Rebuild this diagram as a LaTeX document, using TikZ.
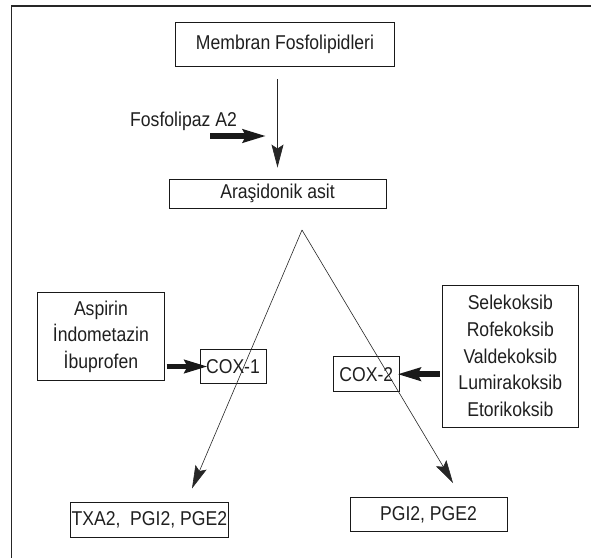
\documentclass[tikz,border=0pt]{standalone}
\usepackage{fontspec}
\setmainfont[FakeStretch=0.88]{Liberation Sans}
\usetikzlibrary{arrows.meta,calc}
\begin{document}
\begin{tikzpicture}[x=1pt,y=-1pt,
  txt/.style={font=\fontsize{20}{26.6}\selectfont, text=black!88, inner sep=0pt, align=center},
  box/.style={txt, draw=black!90, line width=0.9pt},
  thinarrow/.style={draw=black!85, line width=0.7pt, -{Stealth[length=23pt,width=12pt,inset=4pt]}},
  thickarrow/.style={draw=black!90, line width=5.5pt, -{Stealth[length=23pt,width=13pt,inset=3pt]}}
]
\useasboundingbox (0,0) rectangle (591,557);
% frame (right and bottom sides lie outside the picture)
\draw[line width=1.3pt, black!85] (11.5,570) -- (11.5,6) -- (600,6);

\node[box, minimum width=218.5pt, minimum height=44pt] (mem) at (285,44.7) {Membran Fosfolipidleri};
\node[box, minimum width=217pt, minimum height=29pt] (ara) at (277.5,193.5) {Araşidonik asit};
\node[txt, anchor=west] (fos) at (130,121) {Fosfolipaz A2};

\node[box, minimum width=126.3pt, minimum height=88pt] (asp) at (100.9,336.7) {Aspirin\\İndometazin\\İbuprofen};
\node[box, minimum width=66pt, minimum height=34pt] (cox1) at (233,366.5) {COX-1};
\node[box, minimum width=65.5pt, minimum height=35pt] (cox2) at (366.3,374.2) {COX-2};
\node[box, minimum width=136.5pt, minimum height=142pt] (sel) at (510.3,356) {Selekoksib\\Rofekoksib\\Valdekoksib\\Lumirakoksib\\Etorikoksib};

\node[box, minimum width=157.3pt, minimum height=35pt] (txa) at (149.3,519.5) {TXA2,\ \ PGI2, PGE2};
\node[box, minimum width=157pt, minimum height=33.6pt] (pgi) at (428.5,514.5) {PGI2, PGE2};

% arrows
\draw[thinarrow, shorten <=12pt, shorten >=11pt] (ara.north |- mem.south) -- (ara.north);
\coordinate (fa1) at (210,136);
\coordinate (fa2) at (266,136);
\draw[thickarrow] (fa1) -- (fa2);

\coordinate (apex) at (302,230);
\coordinate (t1) at (192,488.5);
\coordinate (t2) at (453,483);
\draw[thinarrow, line width=0.6pt] (apex) -- (t1);
\draw[thinarrow, line width=0.6pt] (apex) -- (t2);

\draw[thickarrow] ([xshift=2pt]asp.east |- cox1.west) -- ([xshift=8pt]cox1.west);
\draw[thickarrow] ([xshift=-2pt]sel.west |- cox2.east) -- ([xshift=-2pt]cox2.east);
\end{tikzpicture}
\end{document}
